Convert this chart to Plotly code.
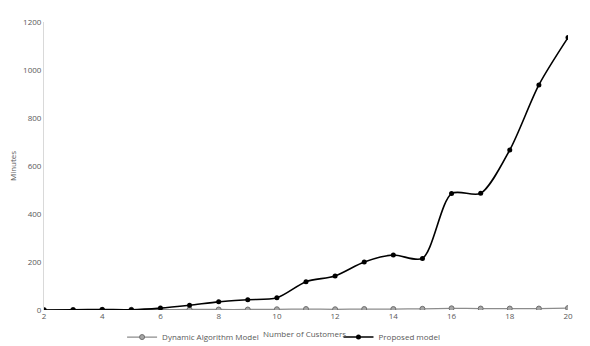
import plotly.graph_objects as go

customers = list(range(2, 21))
dynamic_model = [0, 0, 1, 1, 1, 2, 2, 2, 3, 4, 3, 4, 4, 5, 7, 6, 6, 6, 8]
proposed_model = [0, 1, 2, 1, 8, 20, 34, 43, 51, 118, 142, 200, 229, 215, 485, 486, 667, 938, 1135]

x_ticks = list(range(2, 21, 2))
y_ticks = list(range(0, 1201, 200))

FONT = "Open Sans"
TXT = "#595959"

fig = go.Figure()
fig.add_trace(go.Scatter(
    x=customers, y=dynamic_model, name="Dynamic Algorithm Model",
    mode="lines+markers", line=dict(color="#8c8c8c", width=1.3, shape="spline", smoothing=0.6),
    marker=dict(symbol="circle", size=5, color="#a6a6a6", line=dict(color="#6f6f6f", width=1)),
    legend="legend", showlegend=True,
))
fig.add_trace(go.Scatter(
    x=customers, y=proposed_model, name="Proposed model",
    mode="lines+markers", line=dict(color="#000000", width=1.6, shape="spline", smoothing=0.8),
    marker=dict(symbol="circle", size=5, color="#000000"),
    legend="legend2", showlegend=True,
))

fig.update_layout(
    width=582, height=338,
    showlegend=True,
    margin=dict(l=36, r=22, t=14, b=36, autoexpand=False),
    paper_bgcolor="white", plot_bgcolor="white",
    font=dict(family=FONT, size=8, color=TXT),
    xaxis=dict(range=[2, 20], tickvals=x_ticks, showgrid=False, zeroline=False, automargin=False,
               showline=False, ticks="", tickfont=dict(size=8, color=TXT)),
    yaxis=dict(range=[0, 1200], tickvals=y_ticks, showgrid=False, zeroline=False, automargin=False,
               showline=True, linecolor="#d9d9d9", linewidth=1, ticks="",
               tickfont=dict(size=8, color=TXT)),
    legend=dict(orientation="h", x=0.149, y=-0.094, xanchor="left", yanchor="middle",
                font=dict(size=8, color=TXT), bgcolor="rgba(0,0,0,0)", visible=True),
    legend2=dict(orientation="h", x=0.562, y=-0.094, xanchor="left", yanchor="middle",
                 font=dict(size=8, color=TXT), bgcolor="rgba(0,0,0,0)", visible=True),
    annotations=[
        dict(text="Number of Customers", x=0.497, y=-0.083, xref="paper", yref="paper",
             xanchor="center", yanchor="middle", showarrow=False, font=dict(size=8, color=TXT)),
        dict(text="Minutes", x=-0.061, y=0.5, xref="paper", yref="paper", textangle=-90,
             xanchor="center", yanchor="middle", showarrow=False, font=dict(size=8, color=TXT)),
    ],
)

fig.write_html("out.html")
